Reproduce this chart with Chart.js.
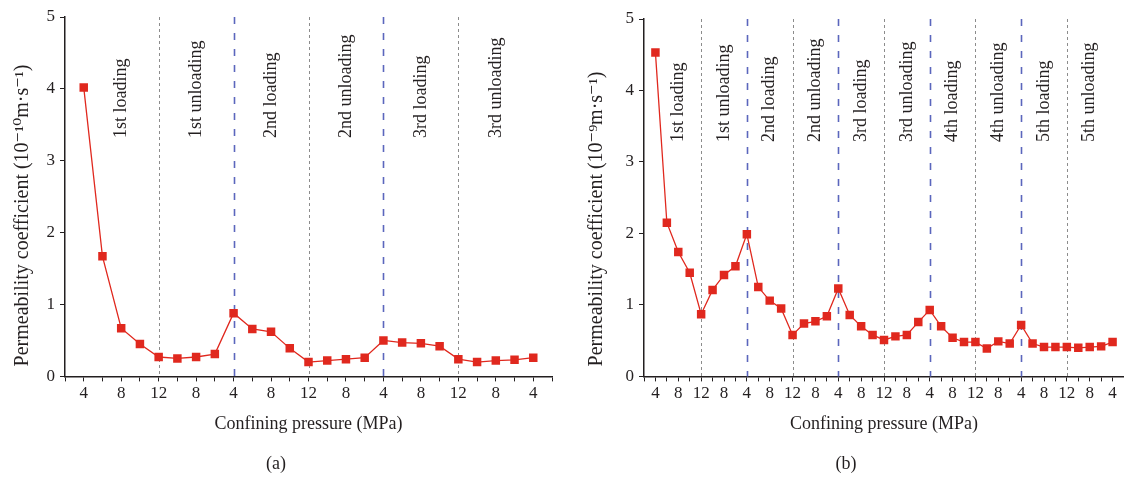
<!DOCTYPE html>
<html>
<head>
<meta charset="utf-8">
<script src="https://cdn.jsdelivr.net/npm/chart.js@4.4.1/dist/chart.umd.min.js"></script>
<style>
  html, body { margin: 0; padding: 0; background: #fff; }
  #wrap { position: relative; width: 1124px; height: 479px; overflow: hidden; }
  .box { position: absolute; top: 0; height: 479px; }
  #boxA { left: 0; width: 562px; }
  #boxB { left: 562px; width: 568px; }
</style>
</head>
<body>
<div id="wrap">
  <div class="box" id="boxA"><canvas id="chartA"></canvas></div>
  <div class="box" id="boxB"><canvas id="chartB"></canvas></div>
</div>
<script>
// (a) three loading/unloading cycles, 10^-10 m/s
const pressureA = ['4', '8', '12', '8', '4', '8', '12', '8', '4', '8', '12', '8', '4'];
const permA = [4.02, 1.67, 0.67, 0.45, 0.27, 0.25, 0.27, 0.31, 0.88, 0.66, 0.62, 0.39, 0.20,
               0.22, 0.24, 0.26, 0.50, 0.47, 0.46, 0.42, 0.24, 0.20, 0.22, 0.23, 0.26];
const stagesA = ['1st loading', '1st unloading', '2nd loading', '2nd unloading', '3rd loading', '3rd unloading'];

// (b) five loading/unloading cycles, 10^-9 m/s
const pressureB = ['4', '8', '12', '8', '4', '8', '12', '8', '4', '8', '12', '8', '4', '8', '12', '8', '4', '8', '12', '8', '4'];
const permB = [4.53, 2.15, 1.74, 1.45, 0.87, 1.21, 1.42, 1.54, 1.99, 1.25, 1.06, 0.95, 0.58, 0.74,
               0.77, 0.84, 1.23, 0.86, 0.70, 0.58, 0.51, 0.56, 0.58, 0.76, 0.93, 0.70, 0.54, 0.48,
               0.48, 0.39, 0.49, 0.46, 0.72, 0.46, 0.41, 0.41, 0.41, 0.40, 0.41, 0.42, 0.48];
const stagesB = ['1st loading', '1st unloading', '2nd loading', '2nd unloading', '3rd loading',
                 '3rd unloading', '4th loading', '4th unloading', '5th loading', '5th unloading'];

const yTicks = [0, 1, 2, 3, 4, 5];

const FONT = "'Liberation Serif', 'DejaVu Serif', serif";
const INK = '#231f20';
const RED = '#e0281e';

// dashed separators at 12 MPa (grey) and 4 MPa (blue) plus rotated stage names
function stagePlugin(pressure, stages, textY) {
  return {
    id: 'stages',
    beforeDatasetsDraw(chart) {
      const { ctx, chartArea, scales: { x } } = chart;
      ctx.save();
      pressure.forEach((p, j) => {
        if (j === 0 || j === pressure.length - 1) return;
        const px = Math.round(x.getPixelForValue(2 * j + 1)) + 0.5;
        if (p === '12') {
          ctx.strokeStyle = '#8c8c8c'; ctx.lineWidth = 1; ctx.setLineDash([3, 3]);
        } else if (p === '4') {
          ctx.strokeStyle = '#5b66bd'; ctx.lineWidth = 1.6; ctx.setLineDash([7, 9]);
        } else return;
        ctx.beginPath();
        ctx.moveTo(px, chartArea.top);
        ctx.lineTo(px, chartArea.bottom);
        ctx.stroke();
      });
      ctx.setLineDash([]);
      ctx.fillStyle = INK;
      ctx.font = '18px ' + FONT;
      ctx.textAlign = 'left';
      ctx.textBaseline = 'middle';
      stages.forEach((name, s) => {
        const px = x.getPixelForValue(4 * s + 3);
        ctx.save();
        ctx.translate(px, textY);
        ctx.rotate(-Math.PI / 2);
        ctx.fillText(name, 0, 0);
        ctx.restore();
      });
      ctx.restore();
    }
  };
}

function makeChart(id, pressure, perm, stages, opts) {
  const nMax = perm.length + 1;
  return new Chart(document.getElementById(id), {
    type: 'line',
    data: {
      datasets: [{
        data: perm.map((v, i) => ({ x: i + 1, y: v })),
        borderColor: RED,
        borderWidth: 1.3,
        backgroundColor: RED,
        pointStyle: 'rect',
        pointRadius: 6,
        pointBorderWidth: 0,
        tension: 0
      }]
    },
    options: {
      responsive: true,
      maintainAspectRatio: false,
      animation: false,
      layout: { padding: { top: opts.top, right: opts.right, left: 0, bottom: 0 } },
      plugins: {
        legend: { display: false },
        tooltip: { enabled: false },
        title: {
          display: true,
          position: 'bottom',
          text: opts.caption,
          color: INK,
          font: { family: FONT, size: 18, weight: 'normal' },
          padding: { top: 13, bottom: 4 }
        }
      },
      scales: {
        x: {
          type: 'linear',
          min: 0,
          max: nMax,
          afterBuildTicks: (s) => { s.ticks = Array.from({ length: nMax + 1 }, (_, i) => ({ value: i })); },
          afterFit: (s) => { s.height = 64; s.paddingRight = 0; s.paddingLeft = 0; },
          border: { color: INK, width: 1.5 },
          grid: { drawOnChartArea: false, color: INK, tickLength: 5, lineWidth: 1 },
          ticks: {
            autoSkip: false,
            maxRotation: 0,
            padding: 2,
            color: INK,
            font: { family: FONT, size: 17 },
            callback: (v) => (v % 2 === 1 ? pressure[(v - 1) / 2] : '')
          },
          title: {
            display: true,
            text: 'Confining pressure (MPa)',
            color: INK,
            font: { family: FONT, size: 18 },
            padding: { top: 0, bottom: 5 }
          }
        },
        y: {
          min: 0,
          max: 5,
          afterBuildTicks: (s) => { s.ticks = yTicks.map((v) => ({ value: v })); },
          afterFit: (s) => { s.width = opts.yWidth; },
          border: { color: INK, width: 1.5 },
          grid: { drawOnChartArea: false, color: INK, tickLength: 5, lineWidth: 1 },
          ticks: { padding: 5, color: INK, font: { family: FONT, size: 17 } },
          title: {
            display: true,
            align: 'start',
            text: '\u2002' + opts.yTitle,
            color: INK,
            font: { family: FONT, size: 20 },
            padding: { top: opts.yTitlePad, bottom: 0 }
          }
        }
      }
    },
    plugins: [stagePlugin(pressure, stages, opts.textY)]
  });
}

makeChart('chartA', pressureA, permA, stagesA, {
  top: 17, right: 10, yWidth: 65, yTitlePad: 11, textY: 138,
  caption: '(a)', yTitle: 'Permeability coefficient (10\u207B\u00B9\u2070m\u00B7s\u207B\u00B9)'
});
makeChart('chartB', pressureB, permB, stagesB, {
  top: 19, right: 0, yWidth: 82, yTitlePad: 23, textY: 142,
  caption: '(b)', yTitle: 'Permeability coefficient (10\u207B\u2079m\u00B7s\u207B\u00B9)'
});
</script>
</body>
</html>
